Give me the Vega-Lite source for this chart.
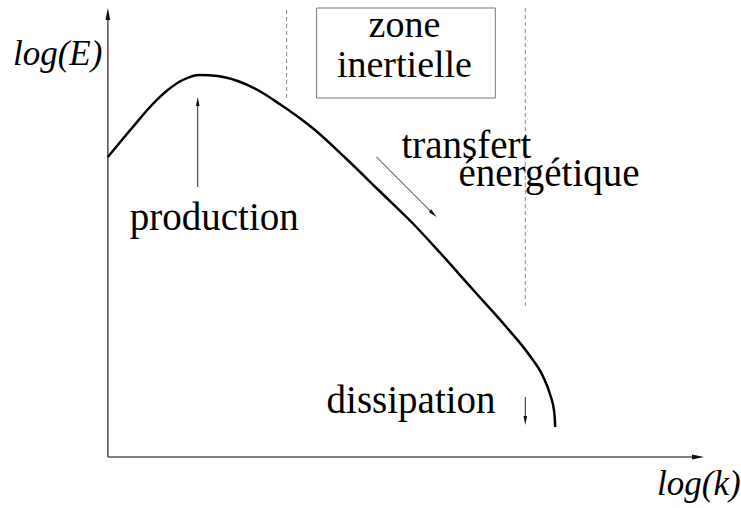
{
  "$schema": "https://vega.github.io/schema/vega-lite/v6.json",
  "width": 741,
  "height": 508,
  "autosize": {"type": "fit", "contains": "padding"},
  "padding": 0,
  "background": "white",
  "config": {"view": {"stroke": null}},
  "datasets": {
    "curve": [
      {"k": 0, "E": 300}, {"k": 25, "E": 330}, {"k": 45, "E": 353}, {"k": 60, "E": 367},
      {"k": 75, "E": 377}, {"k": 92, "E": 382}, {"k": 110, "E": 381}, {"k": 130, "E": 376},
      {"k": 150, "E": 367}, {"k": 172, "E": 353}, {"k": 192, "E": 339}, {"k": 205, "E": 329},
      {"k": 239, "E": 298}, {"k": 272, "E": 266}, {"k": 305, "E": 234}, {"k": 332, "E": 205},
      {"k": 365, "E": 168}, {"k": 399, "E": 130}, {"k": 422, "E": 102}, {"k": 436, "E": 80},
      {"k": 443, "E": 62}, {"k": 447, "E": 45}, {"k": 448, "E": 30}
    ],
    "axes": [
      {"x": 0, "y": 0, "x2": 0, "y2": 440},
      {"x": 0, "y": 0, "x2": 588, "y2": 0}
    ],
    "arrows": [
      {"x": 90, "y": 270, "x2": 90, "y2": 354},
      {"x": 269, "y": 300, "x2": 325, "y2": 244},
      {"x": 418, "y": 60, "x2": 418, "y2": 38}
    ],
    "dashed": [
      {"x": 179, "y": 359, "x2": 179, "y2": 449},
      {"x": 418, "y": 151, "x2": 418, "y2": 449}
    ],
    "heads": [
      {"x": 0, "y": 449, "angle": 0, "size": 576},
      {"x": 597, "y": 0, "angle": 90, "size": 576},
      {"x": 90, "y": 360, "angle": 0, "size": 324},
      {"x": 329, "y": 240, "angle": 135, "size": 324},
      {"x": 418, "y": 32, "angle": 180, "size": 324}
    ],
    "box": [{"x": 209, "y": 359, "x2": 388, "y2": 449}],
    "italic": [
      {"x": -95, "y": 392, "label": "log(E)"},
      {"x": 550, "y": -38, "label": "log(k)"}
    ],
    "left": [
      {"x": 22, "y": 227, "label": "production"},
      {"x": 294, "y": 299, "label": "transfert"},
      {"x": 351, "y": 271, "label": "énergétique"},
      {"x": 219, "y": 44, "label": "dissipation"}
    ],
    "center": [
      {"x": 297, "y": 420, "label": "zone"},
      {"x": 297, "y": 380, "label": "inertielle"}
    ]
  },
  "layer": [
    {
      "data": {"name": "box"},
      "mark": {"type": "rect", "fill": null, "stroke": "#777777", "strokeWidth": 1},
      "encoding": {
        "x": {"field": "x", "type": "quantitative", "scale": {"domain": [-108, 633], "nice": false, "zero": false}, "axis": null},
        "y": {"field": "y", "type": "quantitative", "scale": {"domain": [-51, 457], "nice": false, "zero": false}, "axis": null},
        "x2": {"field": "x2"},
        "y2": {"field": "y2"}
      }
    },
    {
      "data": {"name": "dashed"},
      "mark": {"type": "rule", "color": "#888888", "strokeWidth": 1, "strokeDash": [4, 3]},
      "encoding": {
        "x": {"field": "x", "type": "quantitative", "scale": {"domain": [-108, 633], "nice": false, "zero": false}, "axis": null},
        "y": {"field": "y", "type": "quantitative", "scale": {"domain": [-51, 457], "nice": false, "zero": false}, "axis": null},
        "x2": {"field": "x2"},
        "y2": {"field": "y2"}
      }
    },
    {
      "data": {"name": "axes"},
      "mark": {"type": "rule", "color": "#555555", "strokeWidth": 1.6},
      "encoding": {
        "x": {"field": "x", "type": "quantitative", "scale": {"domain": [-108, 633], "nice": false, "zero": false}, "axis": null},
        "y": {"field": "y", "type": "quantitative", "scale": {"domain": [-51, 457], "nice": false, "zero": false}, "axis": null},
        "x2": {"field": "x2"},
        "y2": {"field": "y2"}
      }
    },
    {
      "data": {"name": "arrows"},
      "mark": {"type": "rule", "color": "#222222", "strokeWidth": 1},
      "encoding": {
        "x": {"field": "x", "type": "quantitative", "scale": {"domain": [-108, 633], "nice": false, "zero": false}, "axis": null},
        "y": {"field": "y", "type": "quantitative", "scale": {"domain": [-51, 457], "nice": false, "zero": false}, "axis": null},
        "x2": {"field": "x2"},
        "y2": {"field": "y2"}
      }
    },
    {
      "data": {"name": "heads"},
      "mark": {"type": "point", "shape": "M0,0L0.2,1L-0.2,1Z", "filled": true, "color": "#111111", "opacity": 1},
      "encoding": {
        "x": {"field": "x", "type": "quantitative", "scale": {"domain": [-108, 633], "nice": false, "zero": false}, "axis": null},
        "y": {"field": "y", "type": "quantitative", "scale": {"domain": [-51, 457], "nice": false, "zero": false}, "axis": null},
        "angle": {"field": "angle", "type": "quantitative", "scale": null},
        "size": {"field": "size", "type": "quantitative", "scale": null, "legend": null}
      }
    },
    {
      "data": {"name": "curve"},
      "mark": {"type": "line", "interpolate": "monotone", "color": "black", "strokeWidth": 2.5},
      "encoding": {
        "x": {"field": "k", "type": "quantitative", "scale": {"domain": [-108, 633], "nice": false, "zero": false}, "axis": null},
        "y": {"field": "E", "type": "quantitative", "scale": {"domain": [-51, 457], "nice": false, "zero": false}, "axis": null}
      }
    },
    {
      "data": {"name": "italic"},
      "mark": {"type": "text", "align": "left", "baseline": "alphabetic", "font": "Liberation Serif", "fontStyle": "italic", "fontSize": 35, "color": "black"},
      "encoding": {
        "x": {"field": "x", "type": "quantitative", "scale": {"domain": [-108, 633], "nice": false, "zero": false}, "axis": null},
        "y": {"field": "y", "type": "quantitative", "scale": {"domain": [-51, 457], "nice": false, "zero": false}, "axis": null},
        "text": {"field": "label"}
      }
    },
    {
      "data": {"name": "left"},
      "mark": {"type": "text", "align": "left", "baseline": "alphabetic", "font": "Liberation Serif", "fontSize": 39, "color": "black"},
      "encoding": {
        "x": {"field": "x", "type": "quantitative", "scale": {"domain": [-108, 633], "nice": false, "zero": false}, "axis": null},
        "y": {"field": "y", "type": "quantitative", "scale": {"domain": [-51, 457], "nice": false, "zero": false}, "axis": null},
        "text": {"field": "label"}
      }
    },
    {
      "data": {"name": "center"},
      "mark": {"type": "text", "align": "center", "baseline": "alphabetic", "font": "Liberation Serif", "fontSize": 38, "color": "black"},
      "encoding": {
        "x": {"field": "x", "type": "quantitative", "scale": {"domain": [-108, 633], "nice": false, "zero": false}, "axis": null},
        "y": {"field": "y", "type": "quantitative", "scale": {"domain": [-51, 457], "nice": false, "zero": false}, "axis": null},
        "text": {"field": "label"}
      }
    }
  ]
}
